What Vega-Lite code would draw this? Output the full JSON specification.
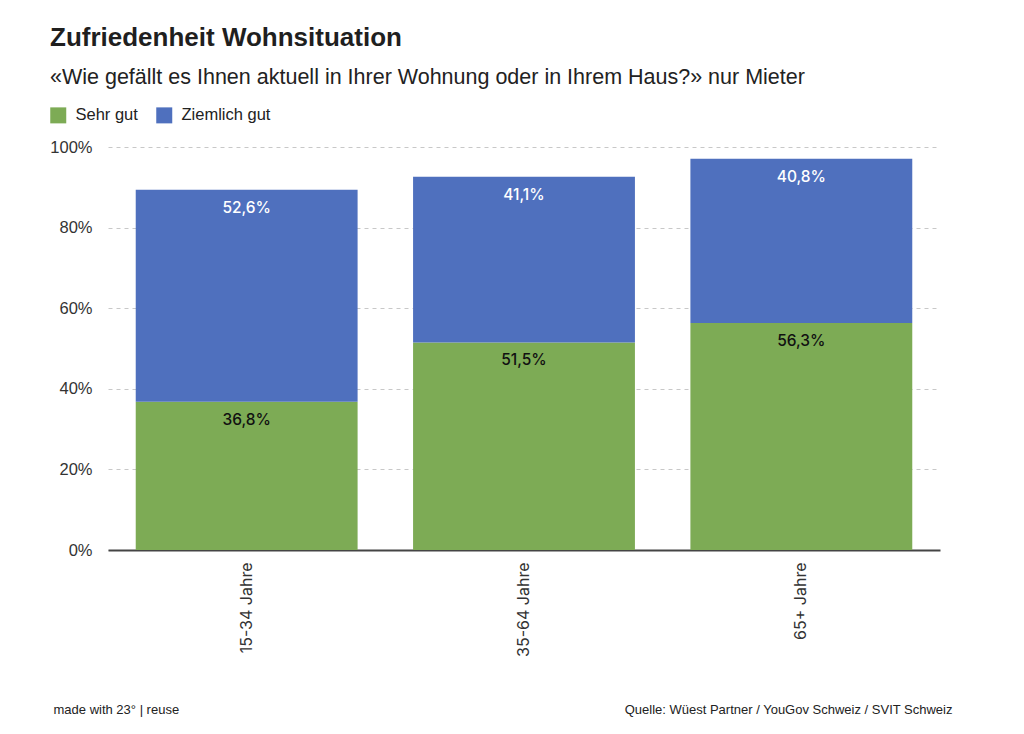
{
  "$schema": "https://vega.github.io/schema/vega-lite/v6.json",
  "width": 832,
  "height": 403,
  "autosize": {"type": "none"},
  "padding": {"left": 108, "top": 147, "right": 84, "bottom": 184},
  "background": "white",
  "config": {
    "locale": {"number": {"decimal": ",", "thousands": "'", "grouping": [3], "currency": ["CHF ", ""]}},
    "view": {"stroke": null},
    "font": "Liberation Sans"
  },
  "title": {
    "text": "Zufriedenheit Wohnsituation",
    "subtitle": "«Wie gefällt es Ihnen aktuell in Ihrer Wohnung oder in Ihrem Haus?» nur Mieter",
    "anchor": "start",
    "frame": "group",
    "dx": -58,
    "font": "Liberation Sans",
    "fontSize": 26,
    "fontWeight": "bold",
    "color": "#1f1f1f",
    "subtitleFont": "Liberation Sans",
    "subtitleFontSize": 21.5,
    "subtitleColor": "#222222",
    "subtitlePadding": 16,
    "offset": 19
  },
  "data": {
    "values": [
      {"age": "15-34 Jahre", "cat": "Sehr gut", "ord": 1, "value": 0.368},
      {"age": "15-34 Jahre", "cat": "Ziemlich gut", "ord": 2, "value": 0.526},
      {"age": "35-64 Jahre", "cat": "Sehr gut", "ord": 1, "value": 0.515},
      {"age": "35-64 Jahre", "cat": "Ziemlich gut", "ord": 2, "value": 0.411},
      {"age": "65+ Jahre", "cat": "Sehr gut", "ord": 1, "value": 0.563},
      {"age": "65+ Jahre", "cat": "Ziemlich gut", "ord": 2, "value": 0.408}
    ]
  },
  "layer": [
    {
      "mark": {"type": "bar"},
      "encoding": {
        "x": {
          "field": "age", "type": "nominal", "sort": null,
          "scale": {"paddingInner": 0.2, "paddingOuter": 0.1},
          "axis": {
            "title": "Quelle: Wüest Partner / YouGov Schweiz / SVIT Schweiz",
            "titleX": 844, "titleY": 163, "titleAlign": "right", "titleAnchor": null,
            "titleBaseline": "alphabetic", "titleFontSize": 13, "titleFontWeight": "normal",
            "titleColor": "#222222", "titleFont": "Liberation Sans",
            "labelAngle": -90, "labelFont": "Inter", "labelFontSize": 16, "labelColor": "#333333",
            "labelPadding": 12, "ticks": false, "domainColor": "#444444", "domainWidth": 2
          }
        },
        "y": {
          "field": "value", "type": "quantitative", "stack": "zero",
          "scale": {"domain": [0, 1]},
          "axis": {
            "values": [0, 0.2, 0.4, 0.6, 0.8, 1], "format": ".0%",
            "title": "made with 23° | reuse",
            "titleAngle": 0, "titleX": -55, "titleY": 566, "titleAlign": "left",
            "titleBaseline": "alphabetic", "titleFontSize": 13, "titleFontWeight": "normal",
            "titleColor": "#222222", "titleFont": "Liberation Sans",
            "domain": false, "ticks": false, "labelPadding": 16, "labelFontSize": 16.5,
            "labelColor": "#333333", "labelFont": "Liberation Sans",
            "grid": true, "gridDash": [4, 4], "gridColor": "#c8c8c8", "gridWidth": 1
          }
        },
        "color": {
          "field": "cat", "type": "nominal",
          "scale": {"domain": ["Sehr gut", "Ziemlich gut"], "range": ["#7dab55", "#4f70be"]},
          "legend": {
            "orient": "none", "legendX": -58, "legendY": -40, "direction": "horizontal",
            "title": null, "symbolType": "square", "symbolSize": 256, "symbolStrokeWidth": 0,
            "labelFontSize": 16.5, "labelOffset": 9, "columnPadding": 18, "labelColor": "#222222",
            "labelFont": "Liberation Sans"
          }
        },
        "order": {"field": "ord", "type": "quantitative"}
      }
    },
    {
      "mark": {"type": "text", "dy": 18, "font": "Inter", "fontSize": 15.5, "fontWeight": 500, "baseline": "middle"},
      "encoding": {
        "x": {"field": "age", "type": "nominal", "sort": null},
        "y": {"field": "value", "type": "quantitative", "stack": "zero"},
        "detail": {"field": "cat"},
        "order": {"field": "ord", "type": "quantitative"},
        "text": {"field": "value", "type": "quantitative", "format": ".1%"},
        "color": {"condition": {"test": "datum.cat === 'Ziemlich gut'", "value": "#ffffff"}, "value": "#111111"}
      }
    }
  ]
}
